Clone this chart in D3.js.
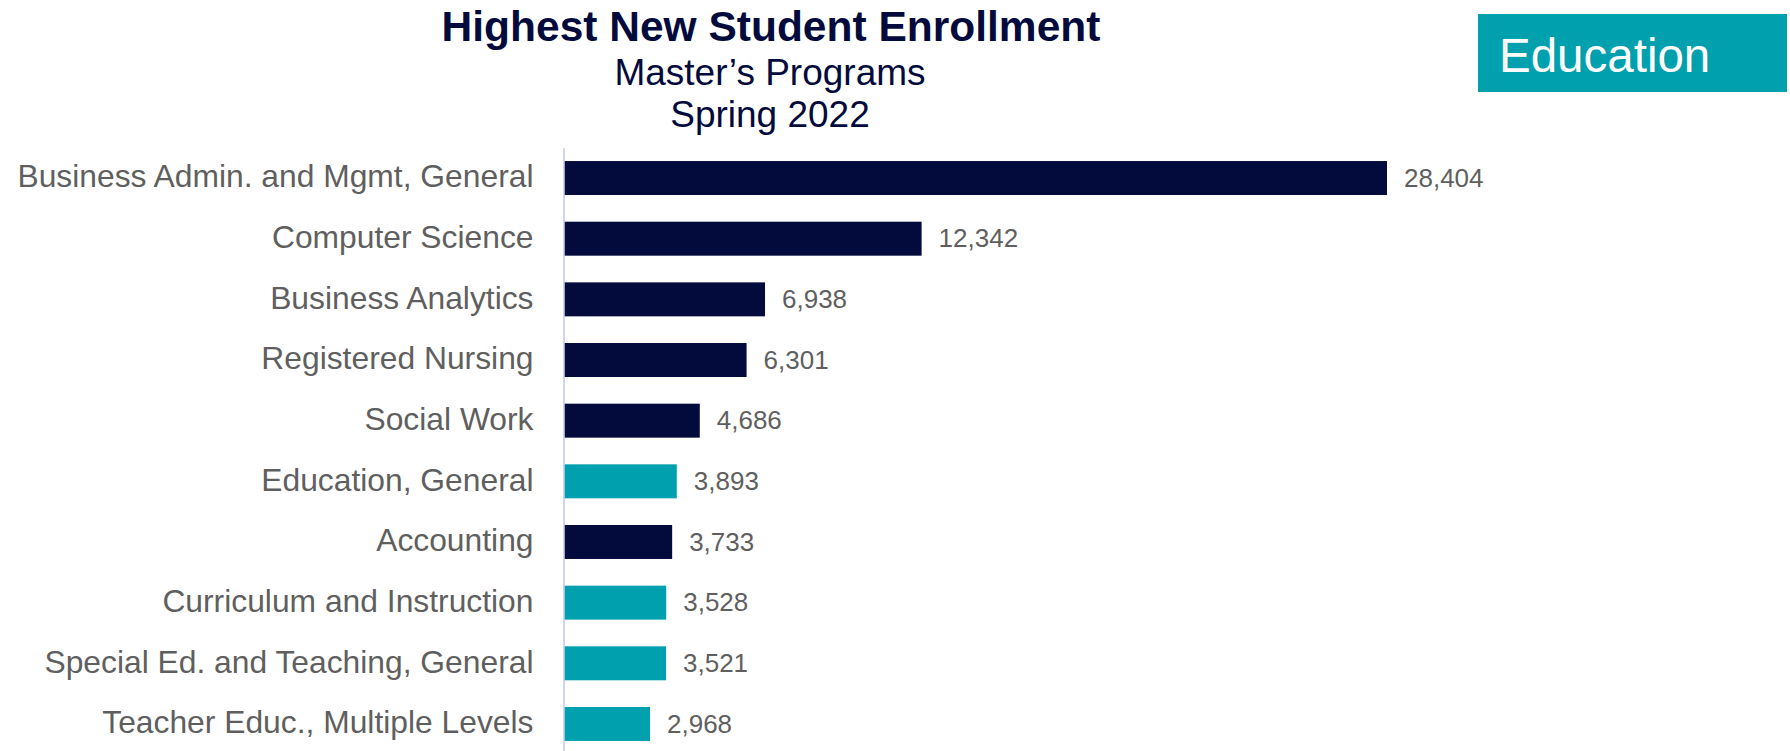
<!DOCTYPE html>
<html>
<head>
<meta charset="utf-8">
<script src="https://cdn.jsdelivr.net/npm/d3@7"></script>
<style>
  html, body { margin: 0; padding: 0; background: #ffffff; }
  svg { display: block; font-family: "Liberation Sans", Arial, sans-serif; }
</style>
</head>
<body>
<svg id="chart" width="1790" height="751"></svg>
<script>
// ---- data ----
const categories = [
  "Business Admin. and Mgmt, General",
  "Computer Science",
  "Business Analytics",
  "Registered Nursing",
  "Social Work",
  "Education, General",
  "Accounting",
  "Curriculum and Instruction",
  "Special Ed. and Teaching, General",
  "Teacher Educ., Multiple Levels"
];
const values = [28404, 12342, 6938, 6301, 4686, 3893, 3733, 3528, 3521, 2968];
const educationPrograms = [
  "Education, General",
  "Curriculum and Instruction",
  "Special Ed. and Teaching, General",
  "Teacher Educ., Multiple Levels"
];
const titleText = "Highest New Student Enrollment";
const subtitleLines = ["Master\u2019s Programs", "Spring 2022"];
const badgeText = "Education";

// ---- styles ----
const navy = "#030a3c";
const teal = "#00a0ae";
const gray = "#5f5f5f";
const axisColor = "#c3cbf5";

const svg = d3.select("#chart");
const rows = categories.map((c, i) => ({ cat: c, val: values[i], edu: educationPrograms.includes(c) }));

const x0 = 564;
const x = d3.scaleLinear().domain([0, 28404]).range([0, 823]);
const y = d3.scaleBand().domain(categories).range([147.7, 754.3]).paddingInner(0.44).paddingOuter(0.22);

// title
svg.append("text").attr("x", 771).attr("y", 41).attr("text-anchor", "middle")
  .attr("font-size", 42.5).attr("font-weight", "bold").attr("fill", navy).text(titleText);
svg.selectAll("text.sub").data(subtitleLines).join("text").attr("class", "sub")
  .attr("x", 770).attr("y", (d, i) => 85 + i * 42)
  .attr("text-anchor", "middle").attr("font-size", 37).attr("fill", navy).text(d => d);

// badge
svg.append("rect").attr("x", 1478).attr("y", 14).attr("width", 309).attr("height", 78).attr("fill", teal);
svg.append("text").attr("x", 1499).attr("y", 72).attr("font-size", 47.5).attr("fill", "#ffffff").text(badgeText);

// bars
svg.selectAll("rect.bar").data(rows).join("rect").attr("class", "bar")
  .attr("x", x0).attr("y", d => y(d.cat))
  .attr("width", d => x(d.val)).attr("height", y.bandwidth())
  .attr("fill", d => d.edu ? teal : navy);

// value labels
svg.selectAll("text.val").data(rows).join("text").attr("class", "val")
  .attr("x", d => x0 + x(d.val) + 17)
  .attr("y", d => y(d.cat) + y.bandwidth() / 2 + 8.8)
  .attr("font-size", 26).attr("fill", gray)
  .text(d => d3.format(",")(d.val));

// category axis
const axis = svg.append("g").attr("transform", "translate(563.5,0)")
  .call(d3.axisLeft(y).tickSize(0).tickPadding(30).tickSizeOuter(0));
axis.select(".domain").attr("stroke", axisColor).attr("stroke-width", 1.6);
axis.selectAll(".tick text").attr("font-size", 31.8).attr("fill", gray)
  .attr("font-family", "\"Liberation Sans\", Arial, sans-serif").attr("dy", "0.29em");
</script>
</body>
</html>
